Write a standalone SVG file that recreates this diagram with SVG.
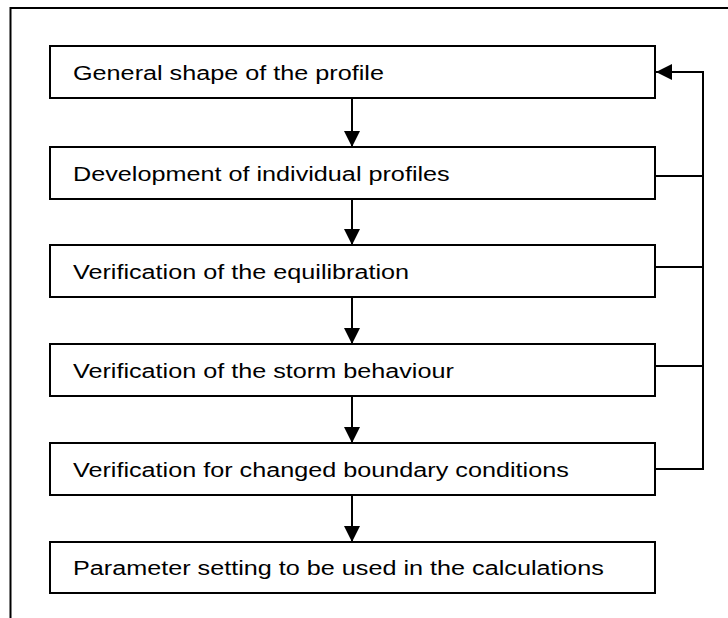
<svg xmlns="http://www.w3.org/2000/svg" width="728" height="618" viewBox="0 0 728 618">
  <style>
    .box { fill: #ffffff; stroke: #000000; stroke-width: 2; }
    .lbl { font-family: "Liberation Sans", Arial, sans-serif; font-size: 21px; fill: #000000; }
    .wire { fill: none; stroke: #000000; stroke-width: 2; }
    .frame { fill: none; stroke: #000000; stroke-width: 2; }
  </style>
  <defs>
    <marker id="head" viewBox="0 0 16 16" refX="16" refY="8" markerWidth="16" markerHeight="16" markerUnits="userSpaceOnUse" orient="auto">
      <path d="M0,0 L16,8 L0,16 Z" fill="#000000"/>
    </marker>
  </defs>

  <!-- page frame (top and left edges only) -->
  <path class="frame" d="M728,8 H10.5 V618"/>

  <!-- labels use a slightly widened face -->
  <g id="n1">
    <rect class="box" x="50" y="46" width="605" height="52"/>
    <text class="lbl" transform="translate(73,79.5) scale(1.2,1)">General shape of the profile</text>
  </g>
  <g id="n2">
    <rect class="box" x="50" y="147" width="605" height="52"/>
    <text class="lbl" transform="translate(73,180.5) scale(1.2,1)">Development of individual profiles</text>
  </g>
  <g id="n3">
    <rect class="box" x="50" y="245" width="605" height="52"/>
    <text class="lbl" transform="translate(73,278.5) scale(1.2,1)">Verification of the equilibration</text>
  </g>
  <g id="n4">
    <rect class="box" x="50" y="344" width="605" height="52"/>
    <text class="lbl" transform="translate(73,377.5) scale(1.2,1)">Verification of the storm behaviour</text>
  </g>
  <g id="n5">
    <rect class="box" x="50" y="443" width="605" height="52"/>
    <text class="lbl" transform="translate(73,476.5) scale(1.2,1)">Verification for changed boundary conditions</text>
  </g>
  <g id="n6">
    <rect class="box" x="50" y="542" width="605" height="51"/>
    <text class="lbl" transform="translate(73,575) scale(1.2,1)">Parameter setting to be used in the calculations</text>
  </g>

  <g id="connectors">
    <!-- downward sequence -->
    <path class="wire" d="M352,98 V147" marker-end="url(#head)"/>
    <path class="wire" d="M352,199 V245" marker-end="url(#head)"/>
    <path class="wire" d="M352,297 V344" marker-end="url(#head)"/>
    <path class="wire" d="M352,396 V443" marker-end="url(#head)"/>
    <path class="wire" d="M352,495 V542" marker-end="url(#head)"/>
    <!-- feedback bus on the right -->
    <path class="wire" d="M655,469 H703 V72 H656" marker-end="url(#head)"/>
    <path class="wire" d="M655,176 H703"/>
    <path class="wire" d="M655,267 H703"/>
    <path class="wire" d="M655,366 H703"/>
  </g>
</svg>
